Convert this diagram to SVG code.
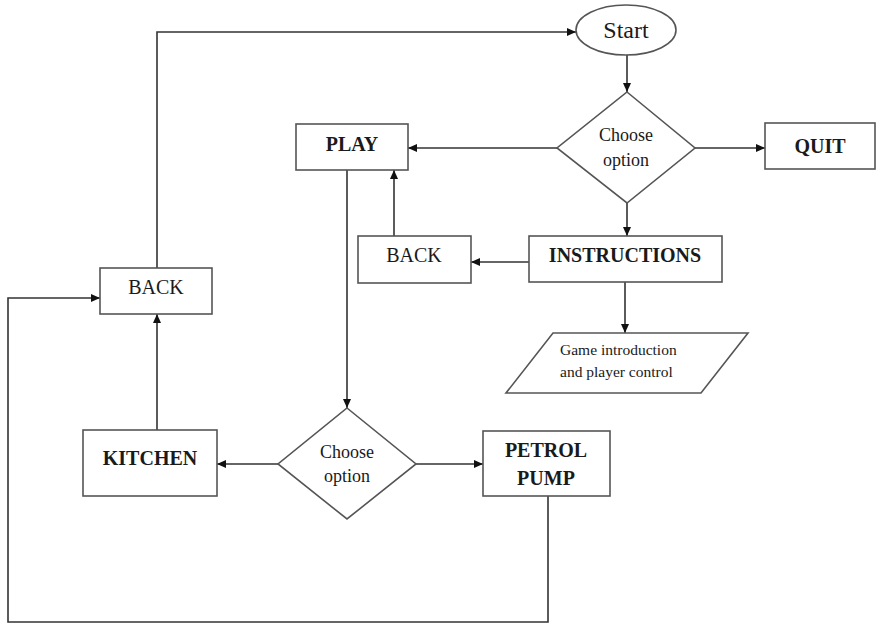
<svg xmlns="http://www.w3.org/2000/svg" width="876" height="626" viewBox="0 0 876 626">
  <style>
    .shape { fill: #ffffff; stroke: #555555; stroke-width: 1.6; }
    .link { fill: none; stroke: #333333; stroke-width: 1.6; marker-end: url(#arrow); }
    .label { font-family: "Liberation Serif", "Times New Roman", serif; fill: #1a1a1a; text-anchor: middle; }
    .bold { font-size: 20px; font-weight: bold; }
    .plain { font-size: 20px; }
    .small { font-size: 18px; }
    .note { font-size: 15.5px; text-anchor: start; }
  </style>
  <defs>
    <marker id="arrow" markerUnits="userSpaceOnUse" markerWidth="10" markerHeight="10" refX="9" refY="4" orient="auto">
      <path d="M0,0 L9,4 L0,8 z" fill="#111111"/>
    </marker>
  </defs>
  <rect width="876" height="626" fill="#ffffff"/>

  <!-- connectors -->
  <g id="connectors">
    <path class="link" d="M157,268 V32 H576"/>
    <path class="link" d="M627,55 V92"/>
    <path class="link" d="M694,148 H765"/>
    <path class="link" d="M557,148 H408"/>
    <path class="link" d="M627,203 V236"/>
    <path class="link" d="M529,262 H471"/>
    <path class="link" d="M394,236 V170"/>
    <path class="link" d="M625,282 V333"/>
    <path class="link" d="M347,170 V408"/>
    <path class="link" d="M278,464 H217"/>
    <path class="link" d="M416,464 H483"/>
    <path class="link" d="M157,430 V314"/>
    <path class="link" d="M548,496 V622 H8 V298 H100"/>
  </g>

  <!-- nodes -->
  <g id="start">
    <ellipse class="shape" cx="626" cy="30" rx="50" ry="25"/>
    <text class="label" x="626" y="38" font-size="24">Start</text>
  </g>

  <g id="choose-main">
    <polygon class="shape" points="627,92 695,148 627,203 557,148"/>
    <text class="label small" x="626" y="141">Choose</text>
    <text class="label small" x="626" y="166">option</text>
  </g>

  <g id="quit">
    <rect class="shape" x="765" y="123" width="110" height="46"/>
    <text class="label bold" x="820" y="153">QUIT</text>
  </g>

  <g id="play">
    <rect class="shape" x="296" y="124" width="112" height="46"/>
    <text class="label bold" x="352" y="151">PLAY</text>
  </g>

  <g id="back-instructions">
    <rect class="shape" x="358" y="236" width="113" height="47"/>
    <text class="label plain" x="414" y="262">BACK</text>
  </g>

  <g id="instructions">
    <rect class="shape" x="529" y="236" width="193" height="46"/>
    <text class="label bold" x="625" y="262">INSTRUCTIONS</text>
  </g>

  <g id="game-intro">
    <polygon class="shape" points="553,333 748,333 701,393 506,393"/>
    <text class="label note" x="560" y="355">Game introduction</text>
    <text class="label note" x="560" y="377">and player control</text>
  </g>

  <g id="back-play">
    <rect class="shape" x="100" y="268" width="112" height="46"/>
    <text class="label plain" x="156" y="294">BACK</text>
  </g>

  <g id="choose-play">
    <polygon class="shape" points="347,408 416,464 347,519 278,464"/>
    <text class="label small" x="347" y="458">Choose</text>
    <text class="label small" x="347" y="482">option</text>
  </g>

  <g id="kitchen">
    <rect class="shape" x="83" y="430" width="134" height="66"/>
    <text class="label bold" x="150" y="465">KITCHEN</text>
  </g>

  <g id="petrol-pump">
    <rect class="shape" x="483" y="431" width="127" height="65"/>
    <text class="label bold" x="546" y="457">PETROL</text>
    <text class="label bold" x="546" y="485">PUMP</text>
  </g>
</svg>
